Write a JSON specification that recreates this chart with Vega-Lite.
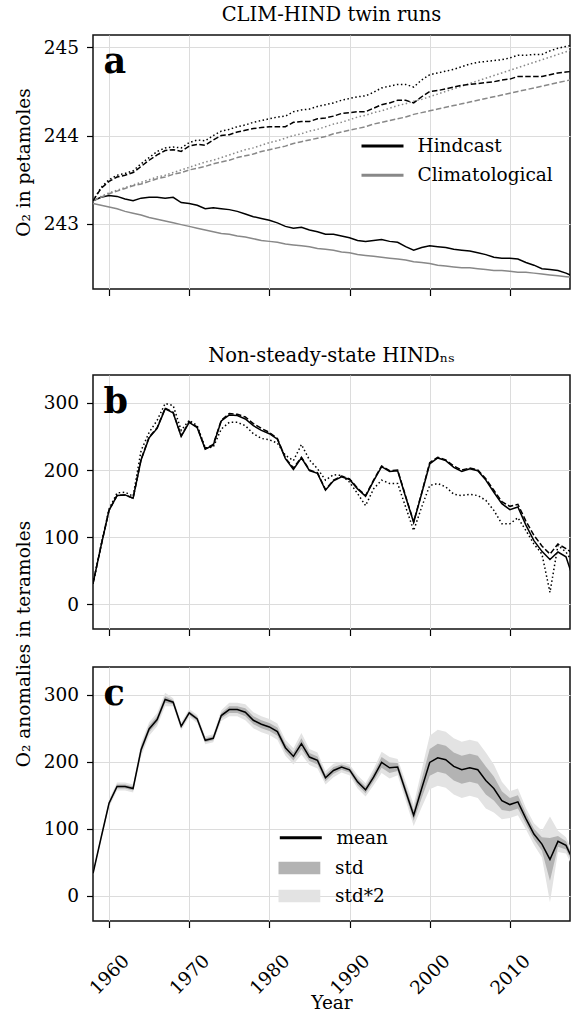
{
  "$schema": "https://vega.github.io/schema/vega-lite/v6.json",
  "padding": {"left": 13, "top": 3, "right": 0, "bottom": 3},
  "background": "white",
  "bounds": "flush",
  "spacing": 38,
  "resolve": {
    "scale": {"x": "independent", "y": "independent", "stroke": "independent", "fill": "independent"},
    "axis": {"x": "independent", "y": "independent"},
    "legend": {"stroke": "independent", "fill": "independent"}
  },
  "config": {
    "font": "DejaVu Serif",
    "view": {"stroke": "#111111", "strokeWidth": 1.5},
    "axis": {
      "labelFont": "DejaVu Serif", "labelFontSize": 18.5, "labelColor": "#000000",
      "titleFont": "DejaVu Serif", "titleFontSize": 18.5, "titleFontWeight": "normal", "titleColor": "#000000",
      "gridColor": "#dcdcdc", "gridWidth": 1, "tickColor": "#000000", "tickWidth": 1.2, "tickSize": 6.5,
      "domain": false, "labelPadding": 8
    },
    "legend": {"labelFont": "DejaVu Serif", "labelFontSize": 18.5, "labelColor": "#000000", "padding": 0, "labelLimit": 400},
    "title": {"font": "DejaVu Serif", "fontSize": 19.5, "fontWeight": "normal", "color": "#000000", "baseline": "top", "anchor": "middle"}
  },
  "vconcat": [
    {
      "width": 477, "height": 254,
      "title": {"text": "CLIM-HIND twin runs", "offset": 10},
      "data": {"values": [
        {"year":1958,"Hs":243.26,"Hd":243.26,"Ho":243.26,"Cs":243.23,"Cd":243.26,"Co":243.26},
        {"year":1959,"Hs":243.30,"Hd":243.40,"Ho":243.41,"Cs":243.21,"Cd":243.30,"Co":243.31},
        {"year":1960,"Hs":243.32,"Hd":243.48,"Ho":243.50,"Cs":243.19,"Cd":243.34,"Co":243.35},
        {"year":1961,"Hs":243.31,"Hd":243.53,"Ho":243.55,"Cs":243.17,"Cd":243.37,"Co":243.38},
        {"year":1962,"Hs":243.28,"Hd":243.55,"Ho":243.57,"Cs":243.14,"Cd":243.40,"Co":243.41},
        {"year":1963,"Hs":243.26,"Hd":243.58,"Ho":243.60,"Cs":243.12,"Cd":243.43,"Co":243.44},
        {"year":1964,"Hs":243.29,"Hd":243.65,"Ho":243.68,"Cs":243.10,"Cd":243.45,"Co":243.47},
        {"year":1965,"Hs":243.30,"Hd":243.72,"Ho":243.75,"Cs":243.07,"Cd":243.48,"Co":243.50},
        {"year":1966,"Hs":243.30,"Hd":243.78,"Ho":243.82,"Cs":243.05,"Cd":243.51,"Co":243.53},
        {"year":1967,"Hs":243.29,"Hd":243.83,"Ho":243.86,"Cs":243.03,"Cd":243.53,"Co":243.55},
        {"year":1968,"Hs":243.30,"Hd":243.84,"Ho":243.87,"Cs":243.01,"Cd":243.56,"Co":243.58},
        {"year":1969,"Hs":243.24,"Hd":243.82,"Ho":243.86,"Cs":242.99,"Cd":243.58,"Co":243.61},
        {"year":1970,"Hs":243.23,"Hd":243.88,"Ho":243.92,"Cs":242.97,"Cd":243.61,"Co":243.64},
        {"year":1971,"Hs":243.21,"Hd":243.90,"Ho":243.95,"Cs":242.95,"Cd":243.63,"Co":243.67},
        {"year":1972,"Hs":243.17,"Hd":243.89,"Ho":243.94,"Cs":242.93,"Cd":243.65,"Co":243.70},
        {"year":1973,"Hs":243.18,"Hd":243.95,"Ho":244.00,"Cs":242.91,"Cd":243.68,"Co":243.72},
        {"year":1974,"Hs":243.17,"Hd":244.00,"Ho":244.05,"Cs":242.89,"Cd":243.70,"Co":243.75},
        {"year":1975,"Hs":243.16,"Hd":244.01,"Ho":244.07,"Cs":242.88,"Cd":243.72,"Co":243.78},
        {"year":1976,"Hs":243.14,"Hd":244.04,"Ho":244.10,"Cs":242.86,"Cd":243.75,"Co":243.81},
        {"year":1977,"Hs":243.11,"Hd":244.06,"Ho":244.12,"Cs":242.85,"Cd":243.77,"Co":243.84},
        {"year":1978,"Hs":243.08,"Hd":244.08,"Ho":244.15,"Cs":242.83,"Cd":243.79,"Co":243.86},
        {"year":1979,"Hs":243.06,"Hd":244.09,"Ho":244.17,"Cs":242.81,"Cd":243.82,"Co":243.89},
        {"year":1980,"Hs":243.04,"Hd":244.10,"Ho":244.19,"Cs":242.80,"Cd":243.84,"Co":243.92},
        {"year":1981,"Hs":243.01,"Hd":244.10,"Ho":244.21,"Cs":242.79,"Cd":243.86,"Co":243.94},
        {"year":1982,"Hs":242.97,"Hd":244.10,"Ho":244.22,"Cs":242.77,"Cd":243.88,"Co":243.97},
        {"year":1983,"Hs":242.95,"Hd":244.15,"Ho":244.27,"Cs":242.76,"Cd":243.91,"Co":244.00},
        {"year":1984,"Hs":242.96,"Hd":244.16,"Ho":244.29,"Cs":242.75,"Cd":243.93,"Co":244.02},
        {"year":1985,"Hs":242.93,"Hd":244.16,"Ho":244.30,"Cs":242.74,"Cd":243.95,"Co":244.05},
        {"year":1986,"Hs":242.91,"Hd":244.19,"Ho":244.33,"Cs":242.72,"Cd":243.97,"Co":244.07},
        {"year":1987,"Hs":242.88,"Hd":244.20,"Ho":244.35,"Cs":242.71,"Cd":243.99,"Co":244.10},
        {"year":1988,"Hs":242.88,"Hd":244.22,"Ho":244.37,"Cs":242.70,"Cd":244.02,"Co":244.13},
        {"year":1989,"Hs":242.86,"Hd":244.25,"Ho":244.40,"Cs":242.68,"Cd":244.04,"Co":244.15},
        {"year":1990,"Hs":242.84,"Hd":244.26,"Ho":244.42,"Cs":242.67,"Cd":244.06,"Co":244.18},
        {"year":1991,"Hs":242.81,"Hd":244.27,"Ho":244.44,"Cs":242.65,"Cd":244.08,"Co":244.21},
        {"year":1992,"Hs":242.80,"Hd":244.27,"Ho":244.45,"Cs":242.64,"Cd":244.10,"Co":244.23},
        {"year":1993,"Hs":242.81,"Hd":244.31,"Ho":244.49,"Cs":242.63,"Cd":244.13,"Co":244.26},
        {"year":1994,"Hs":242.82,"Hd":244.35,"Ho":244.54,"Cs":242.62,"Cd":244.15,"Co":244.28},
        {"year":1995,"Hs":242.80,"Hd":244.37,"Ho":244.56,"Cs":242.61,"Cd":244.17,"Co":244.31},
        {"year":1996,"Hs":242.79,"Hd":244.40,"Ho":244.58,"Cs":242.60,"Cd":244.19,"Co":244.34},
        {"year":1997,"Hs":242.74,"Hd":244.40,"Ho":244.58,"Cs":242.59,"Cd":244.21,"Co":244.36},
        {"year":1998,"Hs":242.70,"Hd":244.37,"Ho":244.55,"Cs":242.57,"Cd":244.24,"Co":244.39},
        {"year":1999,"Hs":242.73,"Hd":244.44,"Ho":244.63,"Cs":242.56,"Cd":244.26,"Co":244.41},
        {"year":2000,"Hs":242.75,"Hd":244.50,"Ho":244.69,"Cs":242.55,"Cd":244.28,"Co":244.44},
        {"year":2001,"Hs":242.74,"Hd":244.51,"Ho":244.71,"Cs":242.53,"Cd":244.30,"Co":244.47},
        {"year":2002,"Hs":242.73,"Hd":244.53,"Ho":244.73,"Cs":242.52,"Cd":244.32,"Co":244.50},
        {"year":2003,"Hs":242.71,"Hd":244.55,"Ho":244.75,"Cs":242.51,"Cd":244.34,"Co":244.53},
        {"year":2004,"Hs":242.70,"Hd":244.57,"Ho":244.78,"Cs":242.50,"Cd":244.36,"Co":244.56},
        {"year":2005,"Hs":242.69,"Hd":244.58,"Ho":244.81,"Cs":242.50,"Cd":244.38,"Co":244.59},
        {"year":2006,"Hs":242.67,"Hd":244.59,"Ho":244.83,"Cs":242.49,"Cd":244.40,"Co":244.62},
        {"year":2007,"Hs":242.65,"Hd":244.60,"Ho":244.84,"Cs":242.48,"Cd":244.42,"Co":244.65},
        {"year":2008,"Hs":242.62,"Hd":244.61,"Ho":244.85,"Cs":242.47,"Cd":244.44,"Co":244.68},
        {"year":2009,"Hs":242.61,"Hd":244.63,"Ho":244.86,"Cs":242.47,"Cd":244.46,"Co":244.71},
        {"year":2010,"Hs":242.61,"Hd":244.64,"Ho":244.88,"Cs":242.46,"Cd":244.48,"Co":244.74},
        {"year":2011,"Hs":242.60,"Hd":244.67,"Ho":244.91,"Cs":242.45,"Cd":244.50,"Co":244.77},
        {"year":2012,"Hs":242.56,"Hd":244.67,"Ho":244.91,"Cs":242.45,"Cd":244.52,"Co":244.80},
        {"year":2013,"Hs":242.53,"Hd":244.67,"Ho":244.92,"Cs":242.44,"Cd":244.54,"Co":244.83},
        {"year":2014,"Hs":242.49,"Hd":244.67,"Ho":244.92,"Cs":242.43,"Cd":244.56,"Co":244.86},
        {"year":2015,"Hs":242.48,"Hd":244.69,"Ho":244.96,"Cs":242.42,"Cd":244.58,"Co":244.89},
        {"year":2016,"Hs":242.47,"Hd":244.71,"Ho":244.99,"Cs":242.41,"Cd":244.60,"Co":244.92},
        {"year":2017,"Hs":242.44,"Hd":244.72,"Ho":245.01,"Cs":242.40,"Cd":244.62,"Co":244.95},
        {"year":2018,"Hs":242.40,"Hd":244.73,"Ho":245.03,"Cs":242.39,"Cd":244.64,"Co":244.98}
      ]},
      "layer": [
        {
          "mark": {"type": "line", "strokeWidth": 1.5, "clip": true},
          "encoding": {
            "x": {"field": "year", "type": "quantitative", "scale": {"domain": [1958, 2017.5], "nice": false, "zero": false},
                  "axis": {"values": [1960, 1970, 1980, 1990, 2000, 2010], "labels": false, "title": null, "grid": true}},
            "y": {"field": "Hs", "type": "quantitative", "scale": {"domain": [242.26, 245.14], "nice": false, "zero": false},
                  "axis": {"values": [243, 244, 245], "format": "d", "title": "O₂ in petamoles", "titlePadding": 9.7, "grid": true}},
            "stroke": {"datum": "Hindcast", "type": "nominal",
                       "scale": {"domain": ["Hindcast", "Climatological"], "range": ["#000000", "#888888"]},
                       "legend": {"orient": "none", "legendX": 267, "legendY": 96.5, "title": null, "symbolType": "stroke",
                                  "symbolSize": 1764, "symbolStrokeWidth": 3, "labelOffset": 12.5, "rowPadding": 0.3, "clipHeight": 29}}
          }
        },
        {
          "mark": {"type": "line", "strokeWidth": 1.5, "clip": true},
          "encoding": {
            "x": {"field": "year", "type": "quantitative"},
            "y": {"field": "Cs", "type": "quantitative"},
            "stroke": {"datum": "Climatological", "type": "nominal"}
          }
        },
        {
          "mark": {"type": "line", "strokeWidth": 1.5, "strokeDash": [5.5, 2.4], "clip": true},
          "encoding": {
            "x": {"field": "year", "type": "quantitative"},
            "y": {"field": "Cd", "type": "quantitative"},
            "stroke": {"datum": "Climatological", "type": "nominal"}
          }
        },
        {
          "mark": {"type": "line", "strokeWidth": 1.5, "strokeDash": [1.5, 2.5], "clip": true},
          "encoding": {
            "x": {"field": "year", "type": "quantitative"},
            "y": {"field": "Co", "type": "quantitative"},
            "stroke": {"datum": "Climatological", "type": "nominal"}
          }
        },
        {
          "mark": {"type": "line", "strokeWidth": 1.5, "strokeDash": [5.5, 2.4], "clip": true},
          "encoding": {
            "x": {"field": "year", "type": "quantitative"},
            "y": {"field": "Hd", "type": "quantitative"},
            "stroke": {"datum": "Hindcast", "type": "nominal"}
          }
        },
        {
          "mark": {"type": "line", "strokeWidth": 1.5, "strokeDash": [1.5, 2.5], "clip": true},
          "encoding": {
            "x": {"field": "year", "type": "quantitative"},
            "y": {"field": "Ho", "type": "quantitative"},
            "stroke": {"datum": "Hindcast", "type": "nominal"}
          }
        },
        {
          "data": {"values": [{"panel": "a"}]},
          "mark": {"type": "text", "font": "DejaVu Serif", "fontWeight": "bold", "fontSize": 35, "align": "left", "baseline": "alphabetic", "color": "#000000"},
          "encoding": {
            "text": {"field": "panel"},
            "x": {"datum": 1959.3, "type": "quantitative"},
            "y": {"datum": 244.707, "type": "quantitative"}
          }
        }
      ]
    },
    {
      "width": 477, "height": 10,
      "view": {"stroke": null},
      "data": {"values": [{"panel": ""}]},
      "mark": {"type": "text"},
      "encoding": {"text": {"field": "panel"}}
    },
    {
      "width": 477, "height": 254,
      "title": {"text": "Non-steady-state HINDₙₛ", "offset": 9},
      "data": {"values": [
        {"year":1958,"s":31,"d":31,"o":31},{"year":1959,"s":87,"d":87,"o":88},{"year":1960,"s":140,"d":140,"o":142},
        {"year":1961,"s":162,"d":162,"o":166},{"year":1962,"s":163,"d":163,"o":167},{"year":1963,"s":158,"d":158,"o":161},
        {"year":1964,"s":215,"d":216,"o":229},{"year":1965,"s":248,"d":249,"o":256},{"year":1966,"s":262,"d":263,"o":274},
        {"year":1967,"s":291,"d":292,"o":299},{"year":1968,"s":285,"d":286,"o":296},{"year":1969,"s":250,"d":251,"o":259},
        {"year":1970,"s":271,"d":272,"o":274},{"year":1971,"s":263,"d":264,"o":266},{"year":1972,"s":231,"d":232,"o":233},
        {"year":1973,"s":237,"d":238,"o":234},{"year":1974,"s":273,"d":274,"o":261},{"year":1975,"s":282,"d":284,"o":271},
        {"year":1976,"s":281,"d":283,"o":271},{"year":1977,"s":276,"d":279,"o":266},{"year":1978,"s":266,"d":269,"o":254},
        {"year":1979,"s":259,"d":262,"o":247},{"year":1980,"s":254,"d":256,"o":245},{"year":1981,"s":246,"d":247,"o":240},
        {"year":1982,"s":217,"d":218,"o":222},{"year":1983,"s":201,"d":203,"o":214},{"year":1984,"s":218,"d":219,"o":238},
        {"year":1985,"s":199,"d":200,"o":215},{"year":1986,"s":195,"d":196,"o":202},{"year":1987,"s":170,"d":171,"o":185},
        {"year":1988,"s":184,"d":185,"o":193},{"year":1989,"s":190,"d":191,"o":192},{"year":1990,"s":186,"d":187,"o":182},
        {"year":1991,"s":172,"d":173,"o":165},{"year":1992,"s":161,"d":162,"o":147},{"year":1993,"s":184,"d":185,"o":172},
        {"year":1994,"s":205,"d":206,"o":185},{"year":1995,"s":198,"d":199,"o":180},{"year":1996,"s":199,"d":200,"o":180},
        {"year":1997,"s":160,"d":161,"o":145},{"year":1998,"s":122,"d":123,"o":110},{"year":1999,"s":165,"d":166,"o":145},
        {"year":2000,"s":209,"d":211,"o":177},{"year":2001,"s":218,"d":219,"o":180},{"year":2002,"s":214,"d":215,"o":175},
        {"year":2003,"s":204,"d":206,"o":164},{"year":2004,"s":198,"d":200,"o":162},{"year":2005,"s":202,"d":203,"o":164},
        {"year":2006,"s":199,"d":200,"o":162},{"year":2007,"s":185,"d":187,"o":155},{"year":2008,"s":167,"d":170,"o":140},
        {"year":2009,"s":150,"d":153,"o":120},{"year":2010,"s":141,"d":146,"o":120},{"year":2011,"s":145,"d":149,"o":129},
        {"year":2012,"s":118,"d":124,"o":110},{"year":2013,"s":95,"d":103,"o":90},{"year":2014,"s":79,"d":87,"o":75},
        {"year":2015,"s":67,"d":75,"o":18},{"year":2016,"s":78,"d":90,"o":88},{"year":2017,"s":71,"d":83,"o":78},
        {"year":2018,"s":35,"d":75,"o":60}
      ]},
      "layer": [
        {
          "mark": {"type": "line", "strokeWidth": 1.5, "color": "#000000", "clip": true},
          "encoding": {
            "x": {"field": "year", "type": "quantitative", "scale": {"domain": [1958, 2017.5], "nice": false, "zero": false},
                  "axis": {"values": [1960, 1970, 1980, 1990, 2000, 2010], "labels": false, "title": null, "grid": true}},
            "y": {"field": "s", "type": "quantitative", "scale": {"domain": [-36.5, 341.4], "nice": false, "zero": false},
                  "axis": {"values": [0, 100, 200, 300], "title": null, "grid": true}}
          }
        },
        {
          "mark": {"type": "line", "strokeWidth": 1.5, "color": "#000000", "strokeDash": [5.5, 2.4], "clip": true},
          "encoding": {
            "x": {"field": "year", "type": "quantitative"},
            "y": {"field": "d", "type": "quantitative"}
          }
        },
        {
          "mark": {"type": "line", "strokeWidth": 1.5, "color": "#000000", "strokeDash": [1.5, 2.5], "clip": true},
          "encoding": {
            "x": {"field": "year", "type": "quantitative"},
            "y": {"field": "o", "type": "quantitative"}
          }
        },
        {
          "data": {"values": [{"panel": "b"}]},
          "mark": {"type": "text", "font": "DejaVu Serif", "fontWeight": "bold", "fontSize": 35, "align": "left", "baseline": "alphabetic", "color": "#000000"},
          "encoding": {
            "text": {"field": "panel"},
            "x": {"datum": 1959.3, "type": "quantitative"},
            "y": {"datum": 284.6, "type": "quantitative"}
          }
        }
      ]
    },
    {
      "width": 477, "height": 254,
      "data": {"values": [
        {"year":1958,"mean":33,"lo2":31,"lo1":32,"hi1":34,"hi2":35},
        {"year":1959,"mean":86,"lo2":82,"lo1":84,"hi1":88,"hi2":90},
        {"year":1960,"mean":138,"lo2":132,"lo1":135,"hi1":141,"hi2":144},
        {"year":1961,"mean":163,"lo2":157,"lo1":160,"hi1":166,"hi2":169},
        {"year":1962,"mean":163,"lo2":157,"lo1":160,"hi1":166,"hi2":169},
        {"year":1963,"mean":160,"lo2":154,"lo1":157,"hi1":163,"hi2":166},
        {"year":1964,"mean":218,"lo2":208,"lo1":213,"hi1":223,"hi2":228},
        {"year":1965,"mean":249,"lo2":239,"lo1":244,"hi1":254,"hi2":259},
        {"year":1966,"mean":263,"lo2":253,"lo1":258,"hi1":268,"hi2":273},
        {"year":1967,"mean":293,"lo2":283,"lo1":288,"hi1":298,"hi2":303},
        {"year":1968,"mean":289,"lo2":283,"lo1":286,"hi1":292,"hi2":295},
        {"year":1969,"mean":253,"lo2":247,"lo1":250,"hi1":256,"hi2":259},
        {"year":1970,"mean":273,"lo2":267,"lo1":270,"hi1":276,"hi2":279},
        {"year":1971,"mean":264,"lo2":258,"lo1":261,"hi1":267,"hi2":270},
        {"year":1972,"mean":232,"lo2":226,"lo1":229,"hi1":235,"hi2":238},
        {"year":1973,"mean":235,"lo2":229,"lo1":232,"hi1":238,"hi2":241},
        {"year":1974,"mean":269,"lo2":261,"lo1":265,"hi1":273,"hi2":277},
        {"year":1975,"mean":278,"lo2":268,"lo1":273,"hi1":283,"hi2":288},
        {"year":1976,"mean":278,"lo2":268,"lo1":273,"hi1":283,"hi2":288},
        {"year":1977,"mean":274,"lo2":262,"lo1":268,"hi1":280,"hi2":286},
        {"year":1978,"mean":262,"lo2":250,"lo1":256,"hi1":268,"hi2":274},
        {"year":1979,"mean":256,"lo2":244,"lo1":250,"hi1":262,"hi2":268},
        {"year":1980,"mean":252,"lo2":240,"lo1":246,"hi1":258,"hi2":264},
        {"year":1981,"mean":245,"lo2":233,"lo1":239,"hi1":251,"hi2":257},
        {"year":1982,"mean":221,"lo2":209,"lo1":215,"hi1":227,"hi2":233},
        {"year":1983,"mean":208,"lo2":196,"lo1":202,"hi1":214,"hi2":220},
        {"year":1984,"mean":227,"lo2":211,"lo1":219,"hi1":235,"hi2":243},
        {"year":1985,"mean":207,"lo2":195,"lo1":201,"hi1":213,"hi2":219},
        {"year":1986,"mean":202,"lo2":190,"lo1":196,"hi1":208,"hi2":214},
        {"year":1987,"mean":176,"lo2":166,"lo1":171,"hi1":181,"hi2":186},
        {"year":1988,"mean":187,"lo2":177,"lo1":182,"hi1":192,"hi2":197},
        {"year":1989,"mean":192,"lo2":184,"lo1":188,"hi1":196,"hi2":200},
        {"year":1990,"mean":188,"lo2":180,"lo1":184,"hi1":192,"hi2":196},
        {"year":1991,"mean":170,"lo2":160,"lo1":165,"hi1":175,"hi2":180},
        {"year":1992,"mean":158,"lo2":148,"lo1":153,"hi1":163,"hi2":168},
        {"year":1993,"mean":177,"lo2":165,"lo1":171,"hi1":183,"hi2":189},
        {"year":1994,"mean":199,"lo2":183,"lo1":191,"hi1":207,"hi2":215},
        {"year":1995,"mean":191,"lo2":175,"lo1":183,"hi1":199,"hi2":207},
        {"year":1996,"mean":192,"lo2":180,"lo1":186,"hi1":198,"hi2":204},
        {"year":1997,"mean":156,"lo2":142,"lo1":149,"hi1":163,"hi2":170},
        {"year":1998,"mean":120,"lo2":104,"lo1":112,"hi1":128,"hi2":136},
        {"year":1999,"mean":160,"lo2":132,"lo1":146,"hi1":174,"hi2":188},
        {"year":2000,"mean":199,"lo2":159,"lo1":179,"hi1":219,"hi2":239},
        {"year":2001,"mean":206,"lo2":164,"lo1":185,"hi1":227,"hi2":248},
        {"year":2002,"mean":203,"lo2":161,"lo1":182,"hi1":224,"hi2":245},
        {"year":2003,"mean":193,"lo2":151,"lo1":172,"hi1":214,"hi2":235},
        {"year":2004,"mean":188,"lo2":146,"lo1":167,"hi1":209,"hi2":230},
        {"year":2005,"mean":191,"lo2":149,"lo1":170,"hi1":212,"hi2":233},
        {"year":2006,"mean":188,"lo2":146,"lo1":167,"hi1":209,"hi2":230},
        {"year":2007,"mean":172,"lo2":130,"lo1":151,"hi1":193,"hi2":214},
        {"year":2008,"mean":160,"lo2":124,"lo1":142,"hi1":178,"hi2":196},
        {"year":2009,"mean":142,"lo2":114,"lo1":128,"hi1":156,"hi2":170},
        {"year":2010,"mean":136,"lo2":116,"lo1":126,"hi1":146,"hi2":156},
        {"year":2011,"mean":140,"lo2":120,"lo1":130,"hi1":150,"hi2":160},
        {"year":2012,"mean":115,"lo2":99,"lo1":107,"hi1":123,"hi2":131},
        {"year":2013,"mean":92,"lo2":76,"lo1":84,"hi1":100,"hi2":108},
        {"year":2014,"mean":77,"lo2":57,"lo1":67,"hi1":87,"hi2":97},
        {"year":2015,"mean":54,"lo2":-10,"lo1":22,"hi1":86,"hi2":118},
        {"year":2016,"mean":81,"lo2":65,"lo1":73,"hi1":89,"hi2":97},
        {"year":2017,"mean":75,"lo2":63,"lo1":69,"hi1":81,"hi2":87},
        {"year":2018,"mean":50,"lo2":38,"lo1":44,"hi1":56,"hi2":62}
      ]},
      "layer": [
        {
          "mark": {"type": "area", "opacity": 1, "clip": true},
          "encoding": {
            "x": {"field": "year", "type": "quantitative", "scale": {"domain": [1958, 2017.5], "nice": false, "zero": false},
                  "axis": {"values": [1960, 1970, 1980, 1990, 2000, 2010], "format": "d", "title": "Year", "grid": true,
                           "labelAngle": -45, "labelAlign": "center", "labelBaseline": "middle", "labelPadding": 46.5,
                           "titleY": 72, "titleBaseline": "top"}},
            "y": {"field": "lo2", "type": "quantitative", "scale": {"domain": [-38, 341.6], "nice": false, "zero": false},
                  "axis": {"values": [0, 100, 200, 300], "title": "O₂ anomalies in teramoles", "titlePadding": 9.7, "titleY": -23.5, "grid": true}},
            "y2": {"field": "hi2"},
            "fill": {"datum": "std*2", "type": "nominal",
                     "scale": {"domain": ["std", "std*2"], "range": ["#b3b3b3", "#e3e3e3"]},
                     "legend": {"orient": "none", "legendX": 185.3, "legendY": 187, "title": null,
                                "symbolType": "M-1,-0.3H1V0.3H-1Z", "symbolSize": 1764, "symbolStrokeWidth": 0,
                                "symbolOpacity": 1, "labelOffset": 14.7, "rowPadding": 0, "clipHeight": 28}}
          }
        },
        {
          "mark": {"type": "area", "opacity": 1, "clip": true},
          "encoding": {
            "x": {"field": "year", "type": "quantitative"},
            "y": {"field": "lo1", "type": "quantitative"},
            "y2": {"field": "hi1"},
            "fill": {"datum": "std", "type": "nominal"}
          }
        },
        {
          "mark": {"type": "line", "strokeWidth": 1.5, "clip": true},
          "encoding": {
            "x": {"field": "year", "type": "quantitative"},
            "y": {"field": "mean", "type": "quantitative"},
            "stroke": {"datum": "mean", "type": "nominal",
                       "scale": {"domain": ["mean"], "range": ["#000000"]},
                       "legend": {"orient": "none", "legendX": 185.3, "legendY": 148.25, "title": null, "symbolType": "stroke",
                                  "symbolSize": 1764, "symbolStrokeWidth": 3, "labelOffset": 13.2}}
          }
        },
        {
          "data": {"values": [{"panel": "c"}]},
          "mark": {"type": "text", "font": "DejaVu Serif", "fontWeight": "bold", "fontSize": 35, "align": "left", "baseline": "alphabetic", "color": "#000000"},
          "encoding": {
            "text": {"field": "panel"},
            "x": {"datum": 1959.3, "type": "quantitative"},
            "y": {"datum": 285.5, "type": "quantitative"}
          }
        }
      ]
    }
  ]
}
